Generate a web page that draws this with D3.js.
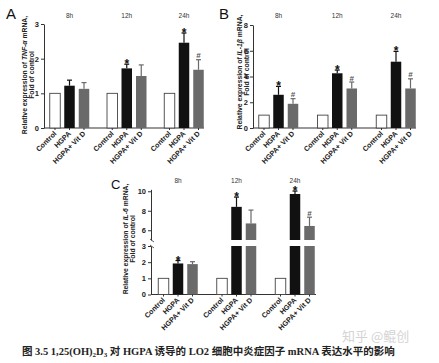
<!DOCTYPE html>
<html><head><meta charset="utf-8">
<script src="https://cdn.jsdelivr.net/npm/d3@7"></script>
<style>body{margin:0;background:#fff}</style>
</head><body><svg id="chart" width="439" height="363"></svg>
<script>
const groups = ["8h", "12h", "24h"];
const conditions = ["Control", "HGPA", "HGPA+ Vit D"];
const tnfMeans = [[1, 1.22, 1.13], [1, 1.72, 1.5], [1, 2.46, 1.68]];
const tnfErrs = [[0, 0.16, 0.18], [0, 0.12, 0.32], [0, 0.28, 0.29]];
const tnfMarks = [["", "", ""], ["", "*", ""], ["", "*", "#"]];
const il1Means = [[1, 2.58, 1.88], [1, 4.25, 3.07], [1, 5.15, 3.07]];
const il1Errs = [[0, 0.65, 0.4], [0, 0.25, 0.5], [0, 0.8, 0.75]];
const il1Marks = [["", "*", "#"], ["", "*", "#"], ["", "*", "#"]];
const il6Means = [[1, 1.92, 1.88], [1, 8.4, 6.7], [1, 9.72, 6.44]];
const il6Errs = [[0, 0.18, 0.15], [0, 1.0, 1.37], [0, 0.3, 0.9]];
const il6Marks = [["", "*", ""], ["", "*", ""], ["", "*", "#"]];
const ticksA = [0, 1, 2, 3];
const ticksB = [0, 2, 4, 6, 8];
const ticksCLow = [0, 1, 2, 3];
const ticksCHigh = [6, 8, 10];

const fills = ["#fff", "#111", "#6a6a6a"];
const font = "Liberation Sans, Arial, sans-serif";
const svg = d3.select("#chart");

let drawPanel = (cfg) => {
  const g = svg.append("g");
  const xGroup = d3.scalePoint().domain(groups).range(cfg.groupRange);
  const xCond = d3.scalePoint().domain(conditions).range([-14.5, 14.5]);
  const bw = 10.5;
  const segs = cfg.segments.map(s => ({...s, y: d3.scaleLinear().domain(s.domain).range(s.range)}));

  // axes
  segs.forEach(s => {
    const ax = g.append("g").attr("transform", `translate(${cfg.axisX},0)`)
      .call(d3.axisLeft(s.y).tickValues(s.ticks).tickFormat(d3.format("d"))
        .tickSize(3).tickSizeOuter(0).tickPadding(2));
    ax.selectAll("path,line").attr("stroke", "#333");
    ax.selectAll("text").attr("font-family", font).attr("font-weight", "bold")
      .attr("font-size", 7.5).attr("fill", "#222");
  });
  if (segs.length > 1) {
    segs.forEach((s, i) => {
      const yy = i === 0 ? s.range[0] : s.range[1];
      g.append("line").attr("x1", cfg.axisX - 1).attr("x2", cfg.axisX + 3)
        .attr("y1", yy - 1).attr("y2", yy + 2).attr("stroke", "#333").attr("stroke-width", 0.8);
    });
  }
  const baseY = segs[segs.length - 1].y(0);
  g.append("line").attr("x1", cfg.axisX).attr("x2", cfg.axisEnd)
    .attr("y1", baseY).attr("y2", baseY).attr("stroke", "#333");

  const rows = [];
  groups.forEach((gr, gi) => conditions.forEach((c, ci) => rows.push({
    gr, c, ci, v: cfg.means[gi][ci], e: cfg.errs[gi][ci], m: cfg.marks[gi][ci],
    cx: xGroup(gr) + xCond(c)
  })));

  // bars (split over axis segments)
  segs.forEach(s => {
    g.selectAll(null).data(rows.filter(d => d.v > s.domain[0])).enter().append("rect")
      .attr("x", d => d.cx - bw / 2)
      .attr("y", d => s.y(Math.min(d.v, s.domain[1])))
      .attr("width", bw)
      .attr("height", d => s.y(s.domain[0]) - s.y(Math.min(d.v, s.domain[1])))
      .attr("fill", d => fills[d.ci])
      .attr("stroke", d => d.ci === 0 ? "#444" : "none")
      .attr("stroke-width", 0.9);
  });

  // error bars and marks
  const segOf = v => segs.find(s => v >= s.domain[0] && v <= s.domain[1] + 0.5) || segs[0];
  rows.filter(d => d.e > 0).forEach(d => {
    const s = segOf(d.v);
    const y0 = s.y(d.v), y1 = s.y(d.v + d.e);
    g.append("line").attr("x1", d.cx).attr("x2", d.cx).attr("y1", y0).attr("y2", y1)
      .attr("stroke", fills[d.ci]).attr("stroke-width", 1.2);
    g.append("line").attr("x1", d.cx - 2.5).attr("x2", d.cx + 2.5).attr("y1", y1).attr("y2", y1)
      .attr("stroke", fills[d.ci]).attr("stroke-width", 1.2);
  });
  rows.filter(d => d.m).forEach(d => {
    const s = segOf(d.v);
    const star = d.m === "*";
    g.append("text").attr("x", d.cx).attr("y", s.y(d.v + d.e) + (star ? 4 : -1.5))
      .attr("text-anchor", "middle").attr("font-family", font).attr("font-weight", "bold")
      .attr("font-size", star ? 12 : 8).attr("fill", star ? "#111" : "#555").text(d.m);
  });

  // x tick marks and rotated labels
  g.selectAll(null).data(rows).enter().append("line")
    .attr("x1", d => d.cx).attr("x2", d => d.cx).attr("y1", baseY).attr("y2", baseY + 2)
    .attr("stroke", "#333");
  g.selectAll(null).data(rows).enter().append("text")
    .attr("transform", d => `translate(${d.cx + 2},${baseY + 6}) rotate(-45)`)
    .attr("text-anchor", "end").attr("font-family", font).attr("font-weight", "bold")
    .attr("font-size", 7.2).attr("fill", "#222").text(d => d.c);

  // group labels
  g.selectAll(null).data(groups).enter().append("text")
    .attr("x", d => xGroup(d)).attr("y", cfg.groupLabelY).attr("text-anchor", "middle")
    .attr("font-family", font).attr("font-size", 6.5).attr("fill", "#333").text(d => d);

  // y title
  const t = g.append("text").attr("transform", `translate(${cfg.titleX},${cfg.titleY}) rotate(-90)`)
    .attr("text-anchor", "middle").attr("font-family", font).attr("font-weight", "bold")
    .attr("font-size", 6.8).attr("fill", "#222");
  const l1 = t.append("tspan").attr("x", 0).attr("dy", 0);
  l1.append("tspan").text("Relative expression of ");
  l1.append("tspan").attr("font-style", "italic").text(cfg.gene);
  l1.append("tspan").text(" mRNA,");
  t.append("tspan").attr("x", 0).attr("dy", 7).text("Fold of control");

  g.append("text").attr("x", cfg.letter[1]).attr("y", cfg.letter[2])
    .attr("font-family", font).attr("font-size", cfg.letter[3]).attr("fill", "#111").text(cfg.letter[0]);
};

drawPanel({
  gene: "TNF-\u03b1", letter: ["A", 6, 19, 15], titleX: 27, titleY: 75,
  axisX: 44, axisEnd: 204, groupRange: [69.5, 184], groupLabelY: 18,
  segments: [{domain: [0, 3], range: [128, 24], ticks: ticksA}],
  means: tnfMeans, errs: tnfErrs, marks: tnfMarks
});
drawPanel({
  gene: "IL-1\u03b2", letter: ["B", 219, 19, 15], titleX: 242, titleY: 72,
  axisX: 253, axisEnd: 416, groupRange: [278.5, 396], groupLabelY: 18,
  segments: [{domain: [0, 8], range: [128, 25], ticks: ticksB}],
  means: il1Means, errs: il1Errs, marks: il1Marks
});
drawPanel({
  gene: "IL-6", letter: ["C", 111, 189, 13], titleX: 128, titleY: 239,
  axisX: 151, axisEnd: 316, groupRange: [178, 295], groupLabelY: 182.5,
  segments: [
    {domain: [5, 10.2], range: [240, 189.3], ticks: ticksCHigh},
    {domain: [0, 3], range: [294.5, 246], ticks: ticksCLow}
  ],
  means: il6Means, errs: il6Errs, marks: il6Marks
});

// caption and watermark
svg.append("text").attr("x", 342).attr("y", 341)
  .attr("font-family", "Noto Sans CJK SC, sans-serif").attr("font-size", 13)
  .attr("fill", "#d4d4d4").text("知乎 @鲲创");
const cap = svg.append("text").attr("x", 22).attr("y", 355)
  .attr("font-family", "Liberation Serif, Noto Sans CJK SC, serif").attr("font-weight", "bold")
  .attr("font-size", 10.5).attr("fill", "#222");
cap.append("tspan").text("图 3.5 1,25(OH)");
cap.append("tspan").attr("font-size", 7).attr("dy", 2).text("2");
cap.append("tspan").attr("dy", -2).text("D");
cap.append("tspan").attr("font-size", 7).attr("dy", 2).text("3");
cap.append("tspan").attr("dy", -2).text(" 对 HGPA 诱导的 LO2 细胞中炎症因子 mRNA 表达水平的影响");
</script></body></html>
